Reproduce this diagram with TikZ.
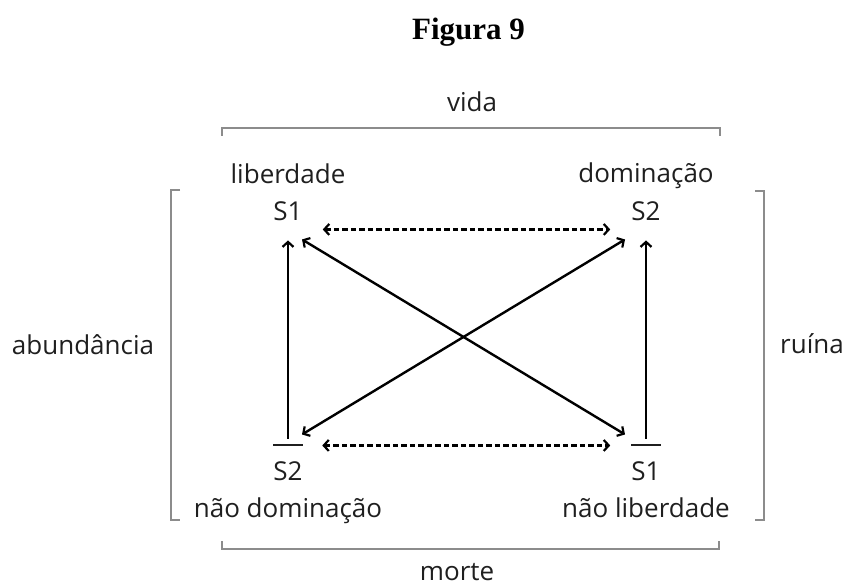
\documentclass[tikz,border=0pt]{standalone}
\usepackage{fontspec}
\setmainfont{Open Sans}
\newfontfamily\titlefont{Liberation Serif}
\usetikzlibrary{arrows.meta}
\begin{document}
\begin{tikzpicture}[x=1pt,y=-1pt,
  lbl/.style={anchor=base,inner sep=0pt,font=\fontsize{26}{30}\selectfont,text=black!88},
  bracket/.style={draw=black!45,line width=1.3pt},
  tip/.tip={Straight Barb[length=5pt,width=11pt,line width=2.2pt]},
  rel/.style={draw=black,line width=2.4pt,tip-tip},
  imp/.style={draw=black,line width=2.4pt,-tip},
  contr/.style={rel,dash pattern=on 5.5pt off 3pt},
  negbar/.style={draw=black!88,line width=1.8pt}]
\useasboundingbox (0,0) rectangle (848,585);
% title
\node[anchor=base,inner sep=0pt,font=\titlefont\bfseries\fontsize{31}{35}\selectfont] (title) at (468.5,40) {Figura 9};
% side labels
\node[lbl] (vida) at (472,112) {vida};
\node[lbl] (morte) at (457,580) {morte};
\node[lbl] (abund) at (83,354) {abundância};
\node[lbl] (ruina) at (812,353) {ruína};
% brackets
\draw[bracket] (222,136) -- (222,128) -- (720,128) -- (720,136);
\draw[bracket] (222,541) -- (222,549) -- (719,549) -- (719,541);
\draw[bracket] (180,190) -- (171,190) -- (171,520) -- (180,520);
\draw[bracket] (755,191) -- (764,191) -- (764,520) -- (755,520);
% corner terms
\node[lbl] (lib) at (288,184) {liberdade};
\node[lbl] (tl) at (288,221) {S1};
\node[lbl] (dom) at (646,183) {dominação};
\node[lbl] (tr) at (646,221) {S2};
\node[lbl] (bl) at (288,480) {S2};
\node[lbl] (ndom) at (288,517) {não dominação};
\node[lbl] (br) at (646,480) {S1};
\node[lbl] (nlib) at (646,517) {não liberdade};
% negation bars
\draw[negbar] ([yshift=16pt]bl.north west) -- ([yshift=16pt]bl.north east);
\draw[negbar] ([yshift=16pt]br.north west) -- ([yshift=16pt]br.north east);
% contraries (dashed)
\draw[contr] ([shift={(20pt,-8pt)}]tl.south east) -- ([shift={(-21pt,-8pt)}]tr.south west);
\draw[contr] ([shift={(19.5pt,15.5pt)}]bl.north east) -- ([shift={(-21pt,15.5pt)}]br.north west);
% contradictories (diagonals)
\draw[rel] ([shift={(14pt,-18pt)}]tl.south) -- ([shift={(-21pt,26.5pt)}]br.north);
\draw[rel] ([shift={(-21pt,-18pt)}]tr.south) -- ([shift={(14pt,26.5pt)}]bl.north);
% implications (vertical)
\draw[imp] ([yshift=22pt]bl.north) -- ([yshift=-19pt]tl.south);
\draw[imp] ([yshift=22pt]br.north) -- ([yshift=-19pt]tr.south);
\end{tikzpicture}
\end{document}
